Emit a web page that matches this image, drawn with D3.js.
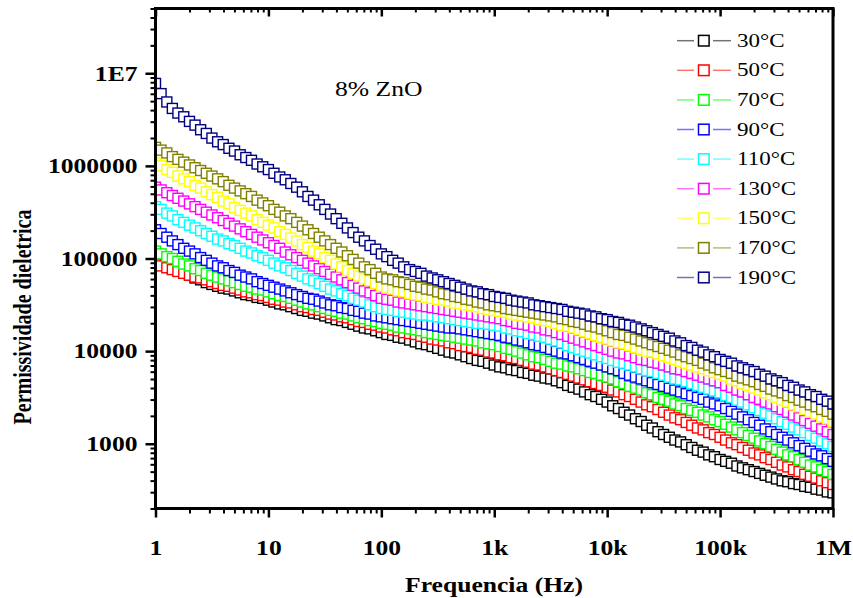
<!DOCTYPE html>
<html>
<head>
<meta charset="utf-8">
<script src="https://cdn.jsdelivr.net/npm/d3@7"></script>
<style>
  body { margin: 0; background: #fff; }
  svg { display: block; }
</style>
</head>
<body>
<div id="chart"></div>
<script>
// Frequency sweep (Hz), 20 points per decade
const freq = [
  1,1.12,1.26,1.41,1.58,1.78,2,2.24,2.51,2.82,3.16,3.55,3.98,4.47,5.01,5.62,6.31,7.08,7.94,8.91,
  10,11.2,12.6,14.1,15.8,17.8,20,22.4,25.1,28.2,31.6,35.5,39.8,44.7,50.1,56.2,63.1,70.8,79.4,89.1,
  100,112,126,141,158,178,200,224,251,282,316,355,398,447,501,562,631,708,794,891,
  1000,1120,1260,1410,1580,1780,2000,2240,2510,2820,3160,3550,3980,4470,5010,5620,6310,7080,7940,8910,
  10000,11200,12600,14100,15800,17800,20000,22400,25100,28200,31600,35500,39800,44700,50100,56200,63100,70800,79400,89100,
  100000,112000,126000,141000,158000,178000,200000,224000,251000,282000,316000,355000,398000,447000,501000,562000,631000,708000,794000,891000,
  1000000
];

const temps = ["30°C", "50°C", "70°C", "90°C", "110°C", "130°C", "150°C", "170°C", "190°C"];
const colors = ["#000000", "#ff0000", "#00ff00", "#0000ff", "#00ffff", "#ff00ff", "#ffff00", "#808000", "#000080"];

// log10 of the permittivity
const log30 = [
  4.97,4.94,4.92,4.89,4.87, 4.84,4.82,4.79,4.77,4.74,
  4.72,4.70,4.68,4.67,4.65, 4.63,4.61,4.60,4.58,4.57,
  4.55,4.53,4.51,4.50,4.48, 4.46,4.44,4.43,4.41,4.40,
  4.38,4.36,4.34,4.33,4.31, 4.29,4.27,4.25,4.24,4.22,
  4.20,4.18,4.17,4.15,4.14, 4.12,4.10,4.08,4.07,4.05,
  4.03,4.01,3.99,3.98,3.96, 3.94,3.92,3.90,3.89,3.87,
  3.85,3.83,3.82,3.80,3.79, 3.77,3.76,3.74,3.73,3.71,
  3.70,3.68,3.66,3.63,3.61, 3.59,3.56,3.53,3.51,3.48,
  3.45,3.41,3.38,3.34,3.31, 3.27,3.24,3.20,3.17,3.13,
  3.10,3.07,3.04,3.02,2.99, 2.96,2.93,2.91,2.88,2.86,
  2.83,2.81,2.79,2.76,2.74, 2.72,2.70,2.68,2.66,2.64,
  2.62,2.60,2.59,2.57,2.56, 2.54,2.53,2.51,2.50,2.48,
  2.47
];
const log50 = [
  4.94,4.92,4.90,4.88,4.86, 4.84,4.82,4.80,4.79,4.77,
  4.75,4.73,4.71,4.70,4.68, 4.66,4.64,4.63,4.61,4.60,
  4.58,4.56,4.55,4.53,4.52, 4.50,4.48,4.47,4.45,4.44,
  4.42,4.40,4.39,4.37,4.36, 4.34,4.32,4.31,4.29,4.28,
  4.26,4.25,4.23,4.22,4.20, 4.19,4.18,4.16,4.15,4.13,
  4.12,4.11,4.09,4.08,4.06, 4.05,4.04,4.02,4.01,3.99,
  3.98,3.96,3.95,3.93,3.92, 3.90,3.88,3.86,3.85,3.83,
  3.81,3.79,3.77,3.75,3.73, 3.71,3.69,3.67,3.65,3.63,
  3.61,3.58,3.56,3.53,3.51, 3.48,3.45,3.42,3.40,3.37,
  3.34,3.31,3.28,3.26,3.23, 3.20,3.17,3.15,3.12,3.10,
  3.07,3.04,3.01,2.99,2.96, 2.93,2.90,2.88,2.85,2.83,
  2.80,2.77,2.75,2.72,2.70, 2.67,2.65,2.63,2.60,2.58,
  2.56
];
const log70 = [
  5.08,5.05,5.02,5.00,4.97, 4.94,4.92,4.89,4.87,4.84,
  4.82,4.80,4.78,4.76,4.74, 4.72,4.70,4.69,4.67,4.66,
  4.64,4.62,4.60,4.59,4.57, 4.55,4.53,4.51,4.50,4.48,
  4.46,4.44,4.43,4.41,4.40, 4.38,4.36,4.35,4.33,4.32,
  4.30,4.29,4.28,4.26,4.25, 4.24,4.23,4.22,4.20,4.19,
  4.18,4.17,4.16,4.15,4.14, 4.13,4.12,4.11,4.09,4.08,
  4.07,4.05,4.03,4.02,4.00, 3.98,3.96,3.94,3.93,3.91,
  3.89,3.87,3.86,3.84,3.83, 3.81,3.79,3.77,3.76,3.74,
  3.72,3.70,3.67,3.65,3.62, 3.60,3.58,3.55,3.53,3.50,
  3.48,3.46,3.43,3.41,3.38, 3.36,3.34,3.31,3.29,3.26,
  3.24,3.21,3.18,3.15,3.12, 3.09,3.06,3.03,3.00,2.97,
  2.94,2.91,2.88,2.86,2.83, 2.80,2.77,2.75,2.72,2.70,
  2.67
];
const log90 = [
  5.31,5.27,5.23,5.19,5.15, 5.11,5.08,5.05,5.01,4.98,
  4.95,4.92,4.90,4.87,4.85, 4.82,4.80,4.78,4.75,4.73,
  4.71,4.69,4.67,4.65,4.63, 4.61,4.59,4.57,4.56,4.54,
  4.52,4.50,4.49,4.47,4.46, 4.44,4.43,4.41,4.40,4.38,
  4.37,4.36,4.35,4.34,4.33, 4.32,4.31,4.30,4.29,4.28,
  4.27,4.26,4.25,4.25,4.24, 4.23,4.22,4.21,4.20,4.19,
  4.18,4.17,4.15,4.14,4.12, 4.11,4.09,4.07,4.06,4.04,
  4.02,4.00,3.98,3.97,3.95, 3.93,3.91,3.89,3.87,3.85,
  3.83,3.81,3.79,3.76,3.74, 3.72,3.70,3.68,3.66,3.64,
  3.62,3.60,3.58,3.56,3.54, 3.52,3.50,3.48,3.45,3.43,
  3.41,3.38,3.35,3.32,3.29, 3.26,3.23,3.20,3.16,3.13,
  3.10,3.07,3.04,3.01,2.98, 2.95,2.92,2.89,2.87,2.84,
  2.81
];
const log110 = [
  5.56,5.53,5.49,5.46,5.42, 5.39,5.36,5.33,5.30,5.27,
  5.24,5.21,5.19,5.16,5.14, 5.11,5.08,5.06,5.03,5.01,
  4.98,4.95,4.92,4.90,4.87, 4.84,4.81,4.78,4.76,4.73,
  4.70,4.67,4.65,4.62,4.60, 4.57,4.55,4.53,4.50,4.48,
  4.46,4.45,4.44,4.43,4.42, 4.41,4.40,4.39,4.39,4.38,
  4.37,4.36,4.35,4.34,4.33, 4.32,4.31,4.30,4.30,4.29,
  4.28,4.27,4.25,4.24,4.22, 4.21,4.19,4.18,4.16,4.15,
  4.13,4.11,4.09,4.06,4.04, 4.02,4.00,3.98,3.96,3.94,
  3.92,3.90,3.88,3.87,3.85, 3.83,3.81,3.79,3.78,3.76,
  3.74,3.72,3.70,3.69,3.67, 3.65,3.63,3.61,3.59,3.57,
  3.55,3.52,3.50,3.47,3.45, 3.42,3.39,3.36,3.33,3.30,
  3.27,3.24,3.21,3.18,3.15, 3.12,3.09,3.06,3.03,3.00,
  2.97
];
const log130 = [
  5.77,5.74,5.71,5.68,5.65, 5.62,5.59,5.56,5.53,5.50,
  5.47,5.44,5.41,5.38,5.35, 5.32,5.29,5.26,5.23,5.20,
  5.17,5.14,5.11,5.07,5.04, 5.01,4.98,4.95,4.92,4.89,
  4.86,4.83,4.80,4.77,4.74, 4.71,4.68,4.65,4.63,4.60,
  4.57,4.56,4.55,4.53,4.52, 4.51,4.50,4.49,4.48,4.47,
  4.46,4.45,4.44,4.43,4.42, 4.41,4.40,4.39,4.38,4.37,
  4.36,4.35,4.33,4.32,4.30, 4.29,4.28,4.26,4.25,4.23,
  4.22,4.20,4.18,4.16,4.14, 4.12,4.10,4.08,4.06,4.04,
  4.02,4.00,3.98,3.97,3.95, 3.93,3.91,3.90,3.88,3.87,
  3.85,3.83,3.81,3.80,3.78, 3.76,3.74,3.72,3.70,3.68,
  3.66,3.63,3.61,3.58,3.56, 3.53,3.50,3.48,3.45,3.43,
  3.40,3.37,3.34,3.31,3.28, 3.25,3.22,3.19,3.16,3.13,
  3.10
];
const log150 = [
  6.03,6.00,5.96,5.93,5.89, 5.86,5.83,5.79,5.76,5.72,
  5.69,5.66,5.62,5.59,5.55, 5.52,5.49,5.46,5.42,5.39,
  5.36,5.33,5.29,5.26,5.22, 5.19,5.15,5.12,5.08,5.05,
  5.01,4.98,4.94,4.91,4.87, 4.84,4.81,4.78,4.76,4.73,
  4.70,4.68,4.67,4.65,4.64, 4.62,4.61,4.60,4.58,4.57,
  4.56,4.55,4.54,4.52,4.51, 4.50,4.49,4.48,4.46,4.45,
  4.44,4.43,4.42,4.40,4.39, 4.38,4.37,4.36,4.34,4.33,
  4.32,4.30,4.28,4.27,4.25, 4.23,4.21,4.19,4.17,4.15,
  4.13,4.11,4.09,4.08,4.06, 4.04,4.02,4.00,3.99,3.97,
  3.95,3.93,3.91,3.89,3.87, 3.85,3.83,3.81,3.79,3.77,
  3.75,3.73,3.70,3.68,3.65, 3.63,3.60,3.58,3.55,3.53,
  3.50,3.47,3.45,3.42,3.40, 3.37,3.34,3.32,3.29,3.27,
  3.24
];
const log170 = [
  6.20,6.17,6.14,6.10,6.07, 6.04,6.01,5.98,5.95,5.92,
  5.89,5.86,5.83,5.79,5.76, 5.73,5.70,5.67,5.63,5.60,
  5.57,5.53,5.50,5.46,5.43, 5.39,5.35,5.31,5.27,5.23,
  5.19,5.15,5.11,5.07,5.03, 4.99,4.95,4.91,4.88,4.84,
  4.80,4.78,4.77,4.75,4.74, 4.72,4.70,4.69,4.67,4.66,
  4.64,4.62,4.61,4.59,4.58, 4.56,4.55,4.53,4.52,4.50,
  4.49,4.48,4.46,4.45,4.44, 4.43,4.42,4.41,4.40,4.39,
  4.38,4.37,4.35,4.34,4.32, 4.31,4.29,4.27,4.26,4.24,
  4.22,4.20,4.18,4.17,4.15, 4.13,4.11,4.09,4.07,4.05,
  4.03,4.01,3.99,3.96,3.94, 3.92,3.90,3.87,3.85,3.82,
  3.80,3.78,3.76,3.73,3.71, 3.69,3.67,3.64,3.62,3.59,
  3.57,3.55,3.52,3.50,3.47, 3.45,3.42,3.40,3.37,3.35,
  3.32
];
const log190 = [
  6.89,6.78,6.69,6.62,6.57, 6.53,6.48,6.44,6.39,6.35,
  6.30,6.26,6.23,6.19,6.16, 6.12,6.09,6.06,6.02,5.99,
  5.96,5.92,5.88,5.85,5.81, 5.77,5.72,5.67,5.63,5.58,
  5.53,5.48,5.43,5.38,5.33, 5.28,5.23,5.19,5.14,5.10,
  5.05,5.02,4.98,4.95,4.91, 4.88,4.86,4.84,4.81,4.79,
  4.77,4.75,4.73,4.71,4.69, 4.67,4.65,4.64,4.62,4.61,
  4.59,4.58,4.57,4.55,4.54, 4.53,4.52,4.50,4.49,4.48,
  4.47,4.46,4.45,4.43,4.42, 4.41,4.40,4.38,4.37,4.35,
  4.34,4.32,4.31,4.29,4.28, 4.26,4.24,4.22,4.20,4.18,
  4.16,4.14,4.11,4.09,4.06, 4.04,4.01,3.99,3.96,3.94,
  3.91,3.89,3.87,3.84,3.82, 3.80,3.78,3.75,3.73,3.70,
  3.68,3.66,3.63,3.61,3.58, 3.56,3.53,3.51,3.48,3.46,
  3.43
];
const seriesLogs = [log30, log50, log70, log90, log110, log130, log150, log170, log190];

const xTickValues = [1, 10, 100, 1e3, 1e4, 1e5, 1e6];
const xTickLabels = ["1", "10", "100", "1k", "10k", "100k", "1M"];
const yTickValues = [1e3, 1e4, 1e5, 1e6, 1e7];
const yTickLabels = ["1000", "10000", "100000", "1000000", "1E7"];

// layout
const W = 853, H = 598;
const plotL = 155.5, plotR = 833, plotT = 8.5, plotB = 508.5;
const SX = 1.28; // text in the original is stretched horizontally
const serif = "'Liberation Serif', 'Times New Roman', serif";

const svg = d3.select("#chart").append("svg").attr("width", W).attr("height", H)
    .style("background", "#fff");

const x = d3.scaleLog().domain([1, 1e6]).range([plotL, plotR]);
const y = d3.scaleLog().domain([200, 5e7]).range([plotB, plotT]);

svg.append("clipPath").attr("id", "plotClip")
    .append("rect").attr("x", plotL).attr("y", plotT)
    .attr("width", plotR - plotL).attr("height", plotB - plotT);

// series: connecting line under white-filled open squares
const plot = svg.append("g").attr("clip-path", "url(#plotClip)");
const line = d3.line().x(d => x(d.f)).y(d => y(d.v));
seriesLogs.forEach((logs, i) => {
    const pts = freq.map((f, j) => ({ f: f, v: Math.pow(10, logs[j]) }));
    const g = plot.append("g");
    g.append("path").datum(pts)
        .attr("fill", "none")
        .attr("stroke", colors[i])
        .attr("stroke-opacity", 0.5)
        .attr("stroke-width", 1.2)
        .attr("d", line);
    g.selectAll("rect").data(pts).enter().append("rect")
        .attr("x", d => x(d.f) - 5)
        .attr("y", d => y(d.v) - 5)
        .attr("width", 10)
        .attr("height", 10)
        .attr("fill", "#fff")
        .attr("stroke", colors[i])
        .attr("stroke-width", 1.4);
});

// minor tick positions (2..9 in each decade)
const xMinor = x.ticks().filter(t => !xTickValues.includes(t));
const yMinor = [];
[100, 1e3, 1e4, 1e5, 1e6, 1e7].forEach(d => {
    for (let m = 2; m <= 9; m++) {
        const v = d * m;
        if (v >= 200 && v <= 5e7) yMinor.push(v);
    }
});

function styleAxis(g, width) {
    g.select(".domain").remove();
    g.selectAll(".tick line").attr("stroke", "#000").attr("stroke-width", width);
}

// bottom axis
svg.append("g").attr("transform", `translate(0,${plotB})`)
    .call(d3.axisBottom(x).tickValues(xMinor).tickSize(5).tickFormat(""))
    .call(g => styleAxis(g, 2));
const xAxis = svg.append("g").attr("transform", `translate(0,${plotB})`)
    .call(d3.axisBottom(x).tickValues(xTickValues).tickSize(9)
        .tickFormat((d, i) => xTickLabels[i]))
    .call(g => styleAxis(g, 2.5));
xAxis.selectAll(".tick text")
    .attr("y", 0).attr("dy", 0)
    .attr("transform", `translate(0,46) scale(${SX},1)`)
    .attr("fill", "#000")
    .style("font-family", serif).style("font-size", "20px").style("font-weight", "bold");

// top axis, ticks inward
svg.append("g").attr("transform", `translate(0,${plotT})`)
    .call(d3.axisBottom(x).tickValues(xMinor).tickSize(4).tickFormat(""))
    .call(g => styleAxis(g, 2));
svg.append("g").attr("transform", `translate(0,${plotT})`)
    .call(d3.axisBottom(x).tickValues(xTickValues).tickSize(8).tickFormat(""))
    .call(g => styleAxis(g, 2.5));

// left axis
svg.append("g").attr("transform", `translate(${plotL},0)`)
    .call(d3.axisLeft(y).tickValues(yMinor).tickSize(5).tickFormat(""))
    .call(g => styleAxis(g, 2));
const yAxis = svg.append("g").attr("transform", `translate(${plotL},0)`)
    .call(d3.axisLeft(y).tickValues(yTickValues).tickSize(10)
        .tickFormat((d, i) => yTickLabels[i]))
    .call(g => styleAxis(g, 2.5));
yAxis.selectAll(".tick text")
    .attr("x", -18 / SX).attr("dy", "0.34em")
    .attr("transform", `scale(${SX},1)`)
    .attr("fill", "#000")
    .style("font-family", serif).style("font-size", "20px").style("font-weight", "bold");

// frame
svg.append("rect")
    .attr("x", plotL).attr("y", plotT)
    .attr("width", plotR - plotL).attr("height", plotB - plotT)
    .attr("fill", "none").attr("stroke", "#000").attr("stroke-width", 3);

// axis titles
svg.append("text")
    .attr("transform", `translate(494,592) scale(${SX},1)`)
    .attr("text-anchor", "middle")
    .style("font-family", serif).style("font-size", "20px").style("font-weight", "bold")
    .text("Frequencia (Hz)");
svg.append("text")
    .attr("transform", `translate(31,317) scale(${SX},1) rotate(-90)`)
    .attr("text-anchor", "middle")
    .style("font-family", serif).style("font-size", "20px").style("font-weight", "bold")
    .text("Permissividade dieletrica");

// sample label
svg.append("text")
    .attr("transform", `translate(335,96) scale(${SX},1)`)
    .style("font-family", serif).style("font-size", "20px")
    .text("8% ZnO");

// legend
const legend = svg.append("g");
temps.forEach((t, i) => {
    const cy = 40.7 + i * 29.6;
    const row = legend.append("g");
    row.append("line").attr("x1", 677).attr("x2", 694).attr("y1", cy).attr("y2", cy)
        .attr("stroke", colors[i]).attr("stroke-opacity", 0.55).attr("stroke-width", 1.5);
    row.append("line").attr("x1", 713).attr("x2", 731).attr("y1", cy).attr("y2", cy)
        .attr("stroke", colors[i]).attr("stroke-opacity", 0.55).attr("stroke-width", 1.5);
    row.append("rect").attr("x", 698.5).attr("y", cy - 5.3).attr("width", 10.6).attr("height", 10.6)
        .attr("fill", "#fff").attr("stroke", colors[i]).attr("stroke-width", 1.5);
    row.append("text")
        .attr("transform", `translate(737,${cy + 6}) scale(${SX},1)`)
        .style("font-family", serif).style("font-size", "18px")
        .text(t);
});
</script>
</body>
</html>
